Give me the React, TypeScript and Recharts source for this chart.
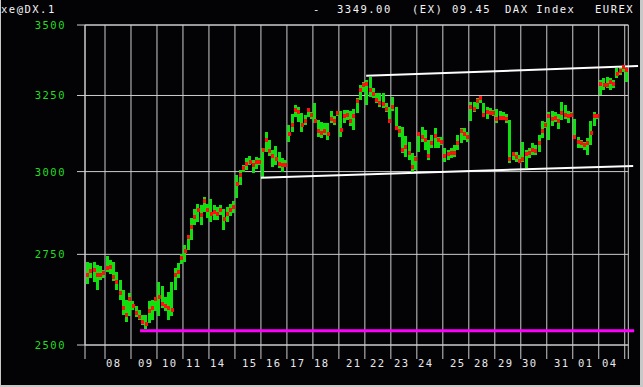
import React from 'react'
import { ComposedChart, Bar, Line, XAxis, YAxis, CartesianGrid, ReferenceLine } from 'recharts'

// trading days (first one is only partly visible, last one is the new session)
const DAYS = ['', '08', '09', '10', '11', '14', '15', '16', '17', '18', '21', '22', '23', '24', '25', '28', '29', '30', '31', '01', '04', '']

const HIGH = [
  [2728, 2725, 2728, 2720, 2717, 2705],
  [2745, 2735, 2728, 2700, 2677, 2649, 2621, 2640],
  [2618, 2606, 2594, 2580, 2580, 2618, 2621, 2630],
  [2670, 2660, 2630, 2643, 2670, 2710, 2725, 2750],
  [2778, 2808, 2857, 2884, 2900, 2895, 2920, 2900],
  [2915, 2895, 2890, 2895, 2884, 2890, 2900, 2910],
  [2990, 3006, 3021, 3043, 3050, 3037, 3047, 3044],
  [3077, 3128, 3101, 3069, 3083, 3063, 3043, 3037],
  [3150, 3187, 3218, 3211, 3190, 3184, 3208, 3194],
  [3225, 3167, 3160, 3157, 3157, 3198, 3180, 3197],
  [3197, 3200, 3200, 3197, 3204, 3242, 3286, 3297],
  [3303, 3314, 3276, 3259, 3259, 3259, 3225, 3211],
  [3245, 3211, 3147, 3144, 3114, 3095, 3060, 3050],
  [3128, 3144, 3134, 3101, 3118, 3140, 3111, 3111],
  [3076, 3069, 3076, 3085, 3118, 3140, 3140, 3128],
  [3228, 3228, 3242, 3249, 3225, 3211, 3208, 3201],
  [3204, 3197, 3194, 3187, 3167, 3063, 3063, 3053],
  [3095, 3069, 3076, 3092, 3085, 3118, 3164, 3160],
  [3194, 3197, 3194, 3187, 3228, 3218, 3197, 3194],
  [3170, 3111, 3101, 3095, 3108, 3164, 3194, 3187],
  [3303, 3310, 3314, 3310, 3303, 3345, 3349, 3349],
  [3345],
]

const LOW = [
  [2665, 2683, 2670, 2650, 2677, 2683],
  [2700, 2695, 2674, 2649, 2621, 2580, 2560, 2578],
  [2592, 2575, 2567, 2552, 2543, 2557, 2567, 2592],
  [2575, 2600, 2592, 2567, 2575, 2649, 2683, 2720],
  [2730, 2765, 2792, 2836, 2845, 2836, 2875, 2857],
  [2845, 2850, 2850, 2865, 2820, 2845, 2865, 2875],
  [2920, 2960, 3000, 3006, 3021, 2997, 3010, 3021],
  [2984, 3063, 3050, 3015, 3021, 3012, 3000, 3015],
  [3095, 3127, 3177, 3160, 3128, 3150, 3177, 3170],
  [3157, 3111, 3108, 3118, 3101, 3157, 3150, 3180],
  [3111, 3157, 3167, 3147, 3134, 3190, 3235, 3262],
  [3218, 3245, 3242, 3225, 3211, 3208, 3194, 3157],
  [3197, 3134, 3111, 3060, 3047, 3037, 2997, 3006],
  [3063, 3095, 3069, 3037, 3076, 3076, 3076, 3085],
  [3031, 3037, 3044, 3047, 3069, 3092, 3101, 3095],
  [3164, 3194, 3204, 3225, 3177, 3170, 3184, 3180],
  [3157, 3167, 3167, 3157, 3027, 3037, 3031, 3031],
  [3031, 3012, 3044, 3053, 3053, 3063, 3108, 3140],
  [3101, 3147, 3160, 3137, 3167, 3170, 3157, 3177],
  [3108, 3076, 3076, 3069, 3053, 3085, 3147, 3170],
  [3252, 3269, 3276, 3269, 3276, 3310, 3321, 3331],
  [3296],
]

const CLOSE = [
  [2692, 2703, 2706, 2692, 2692, 2697],
  [2712, 2715, 2685, 2670, 2640, 2600, 2580, 2625],
  [2605, 2585, 2575, 2560, 2555, 2590, 2600, 2625],
  [2630, 2610, 2605, 2600, 2595, 2690, 2700, 2740],
  [2760, 2800, 2830, 2860, 2880, 2865, 2910, 2880],
  [2870, 2875, 2870, 2880, 2855, 2870, 2880, 2890],
  [2960, 2990, 3010, 3025, 3030, 3020, 3030, 3030],
  [3070, 3100, 3065, 3050, 3040, 3025, 3020, 3022],
  [3120, 3150, 3200, 3195, 3150, 3165, 3200, 3185],
  [3165, 3130, 3125, 3130, 3120, 3170, 3165, 3190],
  [3135, 3180, 3185, 3165, 3180, 3230, 3270, 3285],
  [3290, 3270, 3255, 3235, 3225, 3222, 3205, 3165],
  [3210, 3140, 3130, 3070, 3080, 3060, 3015, 3040],
  [3120, 3110, 3100, 3050, 3090, 3115, 3100, 3095],
  [3050, 3055, 3060, 3060, 3090, 3130, 3120, 3110],
  [3210, 3205, 3230, 3240, 3185, 3195, 3190, 3190],
  [3170, 3175, 3175, 3170, 3040, 3055, 3045, 3035],
  [3040, 3055, 3060, 3070, 3065, 3090, 3130, 3150],
  [3180, 3170, 3175, 3165, 3190, 3185, 3180, 3185],
  [3112, 3095, 3090, 3085, 3090, 3125, 3180, 3180],
  [3290, 3285, 3285, 3295, 3290, 3325, 3335, 3349],
  [3340],
]

const Y_TICKS = [2500, 2750, 3000, 3250, 3500]
const BARS_PER_DAY = 8
const X_DOMAIN = [-6.16, 161.1]

// drawn lines (x in bar slots)
const SUPPORT = [{ x: 10.8, y: 2538 }, { x: 162.9, y: 2538 }]
const UPPER_TREND = [{ x: 80.4, y: 3318 }, { x: 164.1, y: 3352 }]
const LOWER_TREND = [{ x: 48, y: 2981 }, { x: 162.6, y: 3018 }]

const HEADER = [
  { text: 'xe@DX.1', left: 1 },
  { text: '-', left: 313 },
  { text: '3349.00', left: 337 },
  { text: '(EX)', left: 412 },
  { text: '09.45', left: 452 },
  { text: 'DAX Index', left: 505 },
  { text: 'EUREX', left: 595 },
]

const GRID = '#cdcdcd'
const GREEN = '#10e010'
const RED = '#ff1010'
const FONT = '"DejaVu Sans Mono", monospace'

const data = HIGH.flatMap((row, d) => {
  const start = d === 0 ? -row.length : (d - 1) * BARS_PER_DAY
  return row.map((h, j) => ({
    u: start + j + 0.5,
    range: [LOW[d][j], h],
    close: CLOSE[d][j],
  }))
})

const xTicks = [X_DOMAIN[0], ...DAYS.slice(1, 21).map((_, k) => k * BARS_PER_DAY), 160, X_DOMAIN[1]]

const dayLabel = (v: number) => {
  if (v < 0 || v % BARS_PER_DAY !== 0) return ''
  return DAYS[v / BARS_PER_DAY + 1] || ''
}

const PriceBar = (props: any) => {
  const { x, y, width, height } = props
  if (x == null || y == null) return null
  const cx = Math.round(x + width / 2)
  return <rect x={cx - 1} y={Math.round(y)} width={3} height={Math.max(1, Math.round(height))} fill={GREEN} />
}

const CloseMark = (props: any) => {
  const { cx, cy, index } = props
  if (cx == null || cy == null) return <g key={index} />
  return <rect key={index} x={Math.round(cx) - 1} y={Math.round(cy) - 2} width={3} height={4} fill={RED} />
}

const DayTick = ({ x, y, payload }: any) => {
  const label = dayLabel(payload.value)
  if (!label) return <g />
  // labels sit on the 8px character grid of the terminal
  const left = Math.ceil((x - 2) / 8) * 8 + 2
  return (
    <text x={left} y={y + 8} fill="#e8e8e8" fontSize={10.5} fontFamily={FONT} letterSpacing={1.5}>
      {label}
    </text>
  )
}

const PriceTick = ({ x, y, payload }: any) => (
  <text x={x + 2} y={y + 4} textAnchor="end" fill="#22dd22" fontSize={10.5} fontFamily={FONT} letterSpacing={1.5}>
    {payload.value}
  </text>
)

export default function App() {
  return (
    <div style={{ position: 'fixed', left: 0, top: 0, width: 643, height: 387, background: '#030306', overflow: 'hidden' }}>
      {HEADER.map((h) => (
        <span
          key={h.text}
          style={{
            position: 'absolute', left: h.left, top: 3, color: '#f4f4f4', fontFamily: FONT,
            fontSize: 10.5, letterSpacing: 1.5, lineHeight: '13px', whiteSpace: 'pre',
          }}
        >
          {h.text}
        </span>
      ))}
      <div style={{ position: 'absolute', left: 0, top: 0 }}>
        <ComposedChart width={643} height={387} data={data} margin={{ top: 25, right: 14.7, bottom: 0, left: 0 }}>
          <CartesianGrid stroke={GRID} />
          <XAxis
            type="number"
            dataKey="u"
            domain={X_DOMAIN}
            allowDataOverflow
            ticks={xTicks}
            interval={0}
            height={42}
            tickSize={14}
            tickMargin={0}
            tickLine={{ stroke: GRID }}
            axisLine={{ stroke: GRID }}
            tick={<DayTick />}
          />
          <YAxis
            scale="log"
            domain={[2500, 3500]}
            allowDataOverflow
            ticks={Y_TICKS}
            interval={0}
            width={85}
            tickSize={8}
            tickMargin={13}
            tickLine={{ stroke: GRID }}
            axisLine={{ stroke: GRID }}
            tick={<PriceTick />}
          />
          <ReferenceLine y={3500} stroke={GRID} />
          <Bar dataKey="range" barSize={3} shape={<PriceBar />} isAnimationActive={false} />
          <Line dataKey="close" stroke="none" dot={CloseMark} activeDot={false} isAnimationActive={false} />
          <ReferenceLine segment={SUPPORT} stroke="#ff00ff" strokeWidth={3} ifOverflow="visible" />
          <ReferenceLine segment={UPPER_TREND} stroke="#ffffff" strokeWidth={2} ifOverflow="visible" />
          <ReferenceLine segment={LOWER_TREND} stroke="#ffffff" strokeWidth={2} ifOverflow="visible" />
        </ComposedChart>
      </div>
      <div style={{ position: 'absolute', left: 0, top: 0, width: 1, height: 387, background: '#c8c8c8' }} />
      <div style={{ position: 'absolute', right: 0, top: 0, width: 3, height: 387, background: '#c8c8c8' }} />
      <div style={{ position: 'absolute', left: 0, bottom: 0, width: 643, height: 2, background: '#c8c8c8' }} />
    </div>
  )
}
